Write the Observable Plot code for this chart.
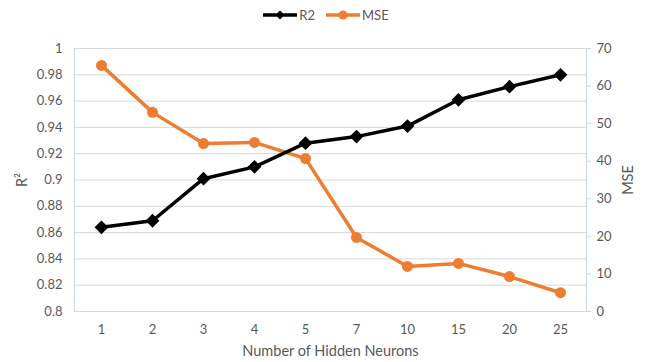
<!DOCTYPE html>
<html>
<head>
<meta charset="utf-8">
<script src="https://cdn.jsdelivr.net/npm/d3@7"></script>
<script src="https://cdn.jsdelivr.net/npm/@observablehq/plot@0.6"></script>
<style>
  html, body { margin: 0; padding: 0; background: #fff; }
  #wrap { position: relative; width: 649px; height: 362px; font-family: Lato, "Open Sans", sans-serif; }
  #legend { position: absolute; top: 7px; left: 0; width: 649px; display: flex; justify-content: center; gap: 10px; font-size: 13px; color: #595959; box-sizing: border-box; padding-left: 2px; }
  .item { display: flex; align-items: center; gap: 1px; }
  #chart { position: absolute; top: 0; left: 0; }
</style>
</head>
<body>
<div id="wrap">
  <div id="chart"></div>
  <div id="legend"></div>
</div>
<script>
const neurons = ["1", "2", "3", "4", "5", "7", "10", "15", "20", "25"];
const r2Values = [0.864, 0.869, 0.901, 0.910, 0.928, 0.933, 0.941, 0.961, 0.971, 0.980];
const mseValues = [65.5, 53.0, 44.7, 45.0, 40.7, 19.7, 12.0, 12.8, 9.3, 5.0];
const r2Ticks = [0.8, 0.82, 0.84, 0.86, 0.88, 0.9, 0.92, 0.94, 0.96, 0.98, 1];
const mseTicks = [0, 10, 20, 30, 40, 50, 60, 70];
const seriesNames = ["R2", "MSE"];
const colors = {R2: "#000000", MSE: "#ED7D31"};

const mseToY = d3.scaleLinear([0, 70], [0.8, 1]);
const r2Data = neurons.map((n, i) => ({n, v: r2Values[i]}));
const mseData = neurons.map((n, i) => ({n, v: mseToY(mseValues[i])}));

const squareDiamond = {
  draw(context, size) {
    const s = Math.sqrt(size / 2);
    context.moveTo(0, -s);
    context.lineTo(s, 0);
    context.lineTo(0, s);
    context.lineTo(-s, 0);
    context.closePath();
  }
};

const chart = Plot.plot({
  width: 649,
  height: 362,
  marginLeft: 74,
  marginRight: 63,
  marginTop: 48,
  marginBottom: 51,
  style: {fontFamily: "Lato, 'Open Sans', sans-serif", fontSize: "13px", color: "#595959", background: "transparent"},
  x: {type: "point", domain: neurons, padding: 0.5},
  y: {domain: [0.8, 1]},
  marks: [
    Plot.gridY(r2Ticks, {stroke: "#d9d9d9", strokeOpacity: 1}),
    Plot.frame({anchor: "left", stroke: "#c5d6ef"}),
    Plot.frame({anchor: "right", stroke: "#c5d6ef"}),
    Plot.axisX({tickSize: 0, tickPadding: 13, label: null}),
    Plot.axisX([], {label: "Number of Hidden Neurons", labelAnchor: "center", labelOffset: 44, labelArrow: "none", fontSize: 14.5}),
    Plot.axisY(r2Ticks, {anchor: "left", tickSize: 0, tickPadding: 12, tickFormat: d => String(+d.toFixed(2)), label: null}),
    Plot.axisY([], {anchor: "left", label: "R²", labelAnchor: "center", labelOffset: 58, labelArrow: "none", fontSize: 14.5}),
    Plot.axisY(mseTicks.map(mseToY), {anchor: "right", tickSize: 4, stroke: "#c5d6ef", tickPadding: 6, tickFormat: d => String(Math.round(mseToY.invert(d))), label: null}),
    Plot.axisY([], {anchor: "right", label: "MSE", labelAnchor: "center", labelOffset: 46, labelArrow: "none", fontSize: 14.5}),
    Plot.line(mseData, {x: "n", y: "v", stroke: colors.MSE, strokeWidth: 3.5}),
    Plot.dot(mseData, {x: "n", y: "v", fill: colors.MSE, r: 5.5, symbol: "circle"}),
    Plot.line(r2Data, {x: "n", y: "v", stroke: colors.R2, strokeWidth: 3.5}),
    Plot.dot(r2Data, {x: "n", y: "v", fill: colors.R2, r: 5.5, symbol: squareDiamond})
  ]
});
document.getElementById("chart").appendChild(chart);

const legend = document.getElementById("legend");
seriesNames.forEach(name => {
  const item = document.createElement("div");
  item.className = "item";
  const sym = name === "R2"
    ? `<path d="M18,1.5 L22.5,6 L18,10.5 L13.5,6 Z" fill="${colors[name]}"/>`
    : `<circle cx="18" cy="6" r="4.5" fill="${colors[name]}"/>`;
  item.innerHTML = `<svg width="36" height="12"><line x1="1" y1="6" x2="35" y2="6" stroke="${colors[name]}" stroke-width="3.5"/>${sym}</svg><span>${name}</span>`;
  legend.appendChild(item);
});
</script>
</body>
</html>
